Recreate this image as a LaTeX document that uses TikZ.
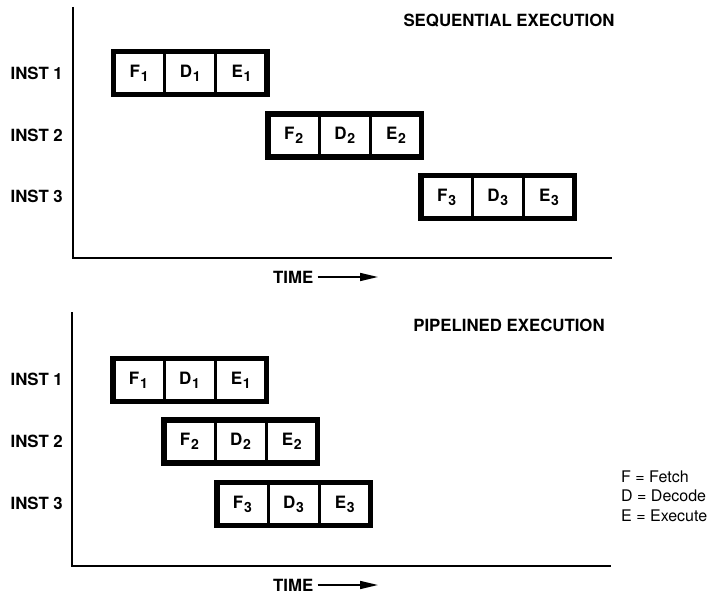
\documentclass[tikz,border=0pt]{standalone}
\usepackage{fontspec}
\setmainfont{TeX Gyre Heros}
\usetikzlibrary{arrows.meta}
\newcommand\mysub[1]{\kern0.8pt\raisebox{-4pt}{\fontsize{14}{14}\selectfont #1}}
\tikzset{
  lbl/.style={font=\bfseries\fontsize{16.8}{18}\selectfont, inner sep=0pt},
  cell/.style={draw, line width=3pt, minimum width=51.2pt, minimum height=43pt,
    inner sep=0pt, outer sep=0pt, font=\bfseries\fontsize{17}{18}\selectfont},
  outerbox/.style={line width=5.5pt},
  axis/.style={line width=2pt},
  timearrow/.style={line width=1.6pt, -{Triangle[length=18pt,width=8pt]}},
}
\newcommand\instbox[4]{% prefix, left x, center y, index
  \node[cell] (#1F) at (#2+25.6, #3) {F\mysub{#4}};
  \node[cell] (#1D) at (#2+76.8, #3) {D\mysub{#4}};
  \node[cell] (#1E) at (#2+128.0, #3) {E\mysub{#4}};
  \draw[outerbox] (#1F.north west) rectangle (#1E.south east);
}
\begin{document}
\begin{tikzpicture}[x=1pt, y=-1pt]
\useasboundingbox (0,0) rectangle (713,594);
% ---------- top panel ----------
\coordinate (ta) at (72.7,7);
\coordinate (to) at (72.7,257.5);
\coordinate (tx) at (612,257.5);
\draw[axis] (ta) -- (to) -- (tx);
\node[lbl] (ttitle) at (509,21) {SEQUENTIAL EXECUTION};
\node[lbl, anchor=east] (ti1) at (63,73) {INST 1};
\node[lbl, anchor=east] (ti2) at (63,135) {INST 2};
\node[lbl, anchor=east] (ti3) at (63,196) {INST 3};
\instbox{a}{113.5}{73}{1}
\instbox{b}{268}{135.5}{2}
\instbox{c}{421}{197}{3}
\node[lbl, anchor=west] (ttime) at (273,277) {TIME};
\coordinate (tarr) at (378,277);
\draw[timearrow] (ttime.east) ++(4,0) -- (tarr);
% ---------- bottom panel ----------
\coordinate (ba) at (72,312);
\coordinate (bo) at (72,566);
\coordinate (bx) at (611,566);
\draw[axis] (ba) -- (bo) -- (bx);
\node[lbl] (btitle) at (509,325) {PIPELINED EXECUTION};
\node[lbl, anchor=east] (bi1) at (63,379) {INST 1};
\node[lbl, anchor=east] (bi2) at (63,441) {INST 2};
\node[lbl, anchor=east] (bi3) at (63,503) {INST 3};
\instbox{d}{112.8}{380}{1}
\instbox{e}{163.8}{441.5}{2}
\instbox{f}{216.8}{504}{3}
\node[lbl, anchor=west] (btime) at (273,585) {TIME};
\coordinate (barr) at (378,585);
\draw[timearrow] (btime.east) ++(4,0) -- (barr);
% ---------- legend ----------
\node[anchor=west, align=left, inner sep=0pt, font=\fontsize{16}{19.5}\selectfont] (legend) at (621,496)
  {F = Fetch\\ D = Decode\\ E = Execute};
\end{tikzpicture}
\end{document}
